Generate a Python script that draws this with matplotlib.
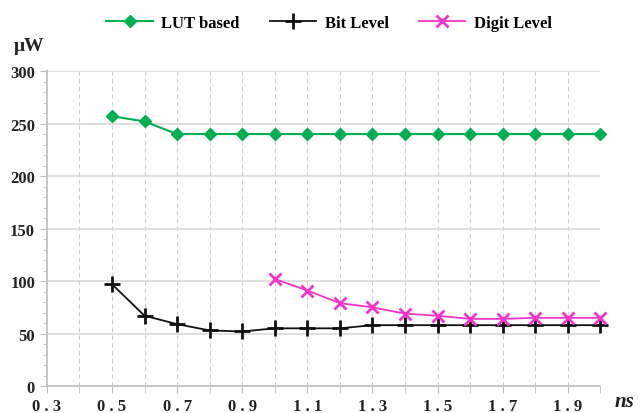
import matplotlib.pyplot as plt
from matplotlib.ticker import MultipleLocator

# delay (ns) vs power (uW)
lut_t = [0.5, 0.6, 0.7, 0.8, 0.9, 1.0, 1.1, 1.2, 1.3, 1.4, 1.5, 1.6, 1.7, 1.8, 1.9, 2.0]
lut_p = [257, 252, 240, 240, 240, 240, 240, 240, 240, 240, 240, 240, 240, 240, 240, 240]

bit_t = [0.5, 0.6, 0.7, 0.8, 0.9, 1.0, 1.1, 1.2, 1.3, 1.4, 1.5, 1.6, 1.7, 1.8, 1.9, 2.0]
bit_p = [97, 67, 59, 53, 52, 55, 55, 55, 58, 58, 58, 58, 58, 58, 58, 58]

dig_t = [1.0, 1.1, 1.2, 1.3, 1.4, 1.5, 1.6, 1.7, 1.8, 1.9, 2.0]
dig_p = [102, 91, 79, 75, 69, 67, 64, 64, 65, 65, 65]

xticks = [0.3, 0.5, 0.7, 0.9, 1.1, 1.3, 1.5, 1.7, 1.9]
xtick_labels = ["0 . 3", "0 . 5", "0 . 7", "0 . 9", "1 . 1", "1 . 3", "1 . 5", "1 . 7", "1 . 9"]

serif = "Liberation Serif"
fig = plt.figure(figsize=(6.42, 4.14), dpi=100)
ax = fig.add_axes([0.073, 0.065, 0.862, 0.761])

ax.plot(lut_t, lut_p, color="#00B050", marker="D", markersize=6, lw=1.5,
        clip_on=False, label="LUT based")
ax.plot(bit_t, bit_p, color="#111111", marker="+", markersize=11, mew=2, lw=1.3,
        clip_on=False, label="Bit Level")
ax.plot(dig_t, dig_p, color="#F035C8", marker="x", markersize=8, mew=2, lw=1.3,
        clip_on=False, label="Digit Level")

ax.set_xlim(0.3, 2.0)
ax.set_ylim(0, 300)
ax.xaxis.set_minor_locator(MultipleLocator(0.1))
ax.set_xticks(xticks)
ax.set_xticklabels(xtick_labels)
ax.yaxis.set_major_locator(MultipleLocator(50))
ax.yaxis.set_minor_locator(MultipleLocator(10))

ax.grid(axis="y", which="major", color="#d9d9d9", lw=1.2, ls="-")
ax.grid(axis="x", which="both", color="#d0d0d0", lw=0.8, ls=(0, (4, 3)))
ax.set_axisbelow(True)

for s in ["top", "right"]:
    ax.spines[s].set_visible(False)
for s in ["left", "bottom"]:
    ax.spines[s].set_color("#bfbfbf")
    ax.spines[s].set_linewidth(1.2)

ax.tick_params(axis="both", which="both", color="#bfbfbf")
ax.tick_params(axis="x", which="both", length=5)
ax.tick_params(axis="y", which="major", length=5)
ax.tick_params(axis="y", which="minor", length=3)
for lab in ax.get_xticklabels() + ax.get_yticklabels():
    lab.set_fontfamily(serif)
    lab.set_fontweight("bold")
    lab.set_fontsize(12)
    lab.set_color("#222222")

fig.text(0.022, 0.878, "μW", fontfamily=serif, fontsize=14, fontweight="bold",
         color="#222222")
fig.text(0.958, 0.018, "ns", fontfamily=serif, fontsize=15, style="italic",
         fontweight="bold", color="#222222")

ax.legend(loc="upper center", bbox_to_anchor=(0.51, 1.225), ncol=3, frameon=False,
          prop={"family": serif, "size": 12, "weight": "bold"}, handlelength=2.8,
          columnspacing=1.8, handletextpad=0.5)

fig.savefig("out.png", dpi=100)
